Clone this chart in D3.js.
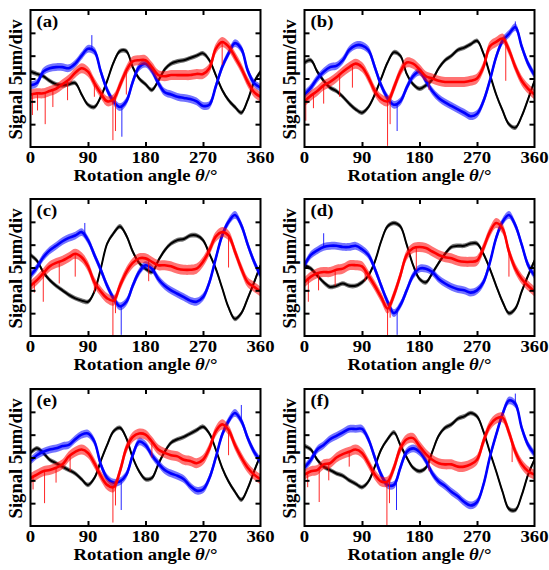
<!DOCTYPE html>
<html>
<head>
<meta charset="utf-8">
<script src="https://cdn.jsdelivr.net/npm/d3@7"></script>
<style>
  html, body { margin: 0; padding: 0; background: #fff; }
  svg { display: block; }
  text { font-family: "Liberation Serif", "Times New Roman", serif; font-weight: bold; fill: #000; }
</style>
</head>
<body>
<svg id="chart" width="549" height="570"></svg>
<script>
// Rotation angles (degrees) at which the traces are sampled
const angleDeg = [0,10,20,30,40,50,60,70,80,90,100,110,120,130,140,150,160,170,180,
                  190,200,210,220,230,240,250,260,270,280,290,300,310,320,330,340,350,360];

// Axis ticks: angle labels and signal divisions (5 µm per division)
const xTickValues = [0, 90, 180, 270, 360];
const yTickValues = [1, 2, 3, 4, 5];
const yDomain = [0, 6];

// Panel letters
const panelLabels = ["(a)", "(b)", "(c)", "(d)", "(e)", "(f)"];

// Signal traces, in divisions, for each panel
const blackA = [3.3,3.2,3.1,2.9,2.75,2.7,2.75,2.8,2.3,1.85,1.75,2.2,2.9,3.7,4.2,4.2,3.5,3.0,2.75,2.5,2.9,3.4,3.65,3.75,3.8,3.9,4.0,4.1,3.8,3.15,2.5,2.05,1.75,1.5,2.05,2.85,3.3];
const blueA  = [2.7,2.8,3.3,3.45,3.5,3.5,3.45,3.65,4.0,4.3,4.2,3.3,2.5,2.0,1.75,2.0,2.85,3.5,3.65,3.35,2.8,2.4,2.3,2.2,2.15,2.1,2.0,1.8,1.85,2.65,3.5,4.1,4.55,4.3,3.35,2.8,2.6];
const redA   = [2.3,2.35,2.35,2.45,2.55,2.75,2.95,3.25,3.45,3.3,2.8,2.35,2.0,2.1,2.7,3.35,3.75,3.8,3.8,3.5,3.15,3.1,3.15,3.15,3.15,3.15,3.2,3.2,3.45,4.3,4.6,4.4,3.95,3.45,2.85,2.4,2.2];

const blackB = [3.7,3.8,3.3,2.9,2.6,2.45,2.2,1.9,1.65,1.5,1.75,2.3,3.0,3.7,4.15,4.0,3.2,2.75,2.55,2.7,2.95,3.45,3.8,4.0,4.25,4.35,4.5,4.65,4.1,3.2,2.3,1.6,1.0,0.85,1.35,2.1,2.9];
const blueB  = [2.3,2.6,3.0,3.3,3.5,3.55,3.8,4.25,4.45,4.45,4.25,3.5,2.7,2.15,1.85,2.0,2.6,3.1,3.3,2.9,2.45,2.15,1.95,1.8,1.65,1.5,1.35,1.45,2.0,2.9,3.95,4.65,4.95,5.25,4.4,3.65,3.15];
const redB   = [2.0,2.25,2.45,2.7,2.85,3.05,3.3,3.5,3.65,3.5,3.05,2.45,2.1,2.0,2.6,3.3,3.7,3.65,3.4,3.1,3.0,2.9,2.85,2.85,2.85,2.85,2.9,3.0,3.5,4.4,4.6,4.75,4.25,3.5,2.9,2.55,2.3];

const blackC = [3.55,3.3,2.8,2.45,2.2,2.0,1.8,1.65,1.55,1.5,1.95,2.95,4.05,4.5,4.8,4.4,3.7,3.2,2.95,2.8,3.3,3.75,4.05,4.2,4.25,4.4,4.4,4.2,3.6,2.95,2.1,1.25,0.75,1.0,1.65,2.35,3.1];
const blueC  = [2.65,3.0,3.45,3.75,3.95,4.15,4.3,4.4,4.55,4.2,3.55,2.9,2.2,1.65,1.3,1.5,2.2,2.8,3.1,2.95,2.5,2.2,2.0,1.85,1.7,1.55,1.5,1.7,2.35,3.4,4.4,5.0,5.3,4.85,4.0,3.25,2.65];
const redC   = [2.2,2.45,2.75,3.05,3.2,3.3,3.45,3.6,3.45,3.05,2.35,1.95,1.65,1.55,2.2,2.8,3.2,3.4,3.4,3.25,3.1,3.1,3.05,2.95,2.9,2.9,2.95,3.25,3.75,4.35,4.55,4.4,3.7,2.95,2.35,2.15,1.95];

const blackD = [3.1,2.95,2.65,2.35,2.15,2.2,2.3,2.2,2.2,2.35,2.65,3.25,4.15,4.8,4.95,4.8,4.0,3.1,2.5,2.35,2.75,3.2,3.6,3.9,3.95,3.95,4.05,4.05,3.6,2.95,2.2,1.5,1.0,1.2,1.95,2.65,3.3];
const blueD  = [3.1,3.55,3.75,3.9,3.95,3.95,3.9,3.9,3.95,3.8,3.55,2.95,2.2,1.5,1.0,1.35,2.0,2.65,2.95,2.95,2.8,2.5,2.3,2.15,2.05,2.0,1.9,2.0,2.35,3.2,4.3,5.0,5.3,4.85,4.0,3.1,2.65];
const redD   = [2.35,2.6,2.75,2.8,2.8,2.9,2.95,3.1,3.1,3.05,2.65,2.2,1.7,1.2,1.8,2.65,3.55,3.85,3.9,3.85,3.7,3.55,3.45,3.4,3.3,3.25,3.25,3.3,3.85,4.55,4.95,4.7,3.7,2.95,2.5,2.2,1.95];

const blackE = [3.2,3.4,3.2,2.9,2.75,2.6,2.45,2.3,2.05,1.8,2.1,2.85,3.55,4.15,4.3,3.85,3.0,2.4,2.05,2.1,2.7,3.25,3.65,3.8,3.9,4.05,4.2,4.35,4.05,3.35,2.55,1.95,1.5,1.15,1.65,2.4,3.1];
const blueE  = [2.85,3.1,3.25,3.35,3.4,3.5,3.55,3.8,4.0,4.05,3.7,2.7,2.1,1.9,1.95,2.25,3.1,3.7,3.55,3.1,2.75,2.45,2.3,2.2,2.05,1.75,1.55,1.6,2.1,3.0,4.0,4.6,4.95,4.6,3.85,3.25,2.85];
const redE   = [2.1,2.25,2.4,2.45,2.55,2.7,3.05,3.25,3.35,3.2,2.75,2.2,1.8,1.7,2.4,3.4,3.9,4.05,4.0,3.7,3.35,3.2,3.1,3.05,2.9,2.85,2.75,2.9,3.4,4.15,4.45,4.2,3.55,3.0,2.55,2.25,2.05];

const blackF = [3.5,3.35,2.9,2.6,2.45,2.3,2.2,2.0,1.85,1.7,1.95,2.6,3.35,3.8,4.1,3.55,3.0,2.55,2.4,2.55,3.25,3.95,4.3,4.45,4.7,4.8,4.95,4.8,4.15,3.25,2.4,1.5,0.75,0.7,1.35,2.25,2.9];
const blueF  = [2.55,2.9,3.35,3.55,3.8,3.95,4.1,4.25,4.25,4.25,3.8,3.0,2.25,1.8,1.8,2.55,3.25,3.4,3.25,2.85,2.3,1.95,1.75,1.5,1.3,1.05,0.9,1.05,1.8,3.0,4.0,4.9,5.5,5.35,4.3,3.55,3.15];
const redF   = [2.25,2.4,2.45,2.7,2.75,3.0,3.15,3.25,3.35,3.2,2.75,2.25,1.95,1.95,2.55,3.4,3.8,3.85,3.5,3.15,2.9,2.75,2.7,2.7,2.6,2.6,2.7,2.9,3.7,4.4,4.7,4.75,4.1,3.25,2.7,2.4,2.25];

// Noise half-width of each trace (divisions): black, blue, red
const noiseHalfWidth = [0.1, 0.17, 0.22];

// Isolated noise spikes [angle, extreme value] for red and blue traces
const redSpikes = [
  [[3,1.4],[11,1.6],[23,1.0],[35,1.75],[58,2.05],[100,2.2],[129,0.3],[133,0.7],[150,2.3],[300,3.6]],
  [[2,1.15],[14,1.7],[30,1.9],[55,2.2],[75,2.6],[130,0.05],[134,1.0],[195,2.5],[315,2.9]],
  [[6,1.9],[20,1.5],[45,2.3],[70,2.6],[100,1.9],[129,0.0],[133,1.0],[185,2.4],[310,3.0]],
  [[6,1.5],[22,2.0],[48,2.2],[95,2.4],[130,0.0],[134,0.8],[175,2.9],[320,2.6]],
  [[4,1.6],[22,1.0],[40,1.9],[62,2.4],[129,0.15],[133,0.9],[190,3.0],[310,3.1]],
  [[5,1.7],[23,1.05],[38,2.0],[70,2.6],[129,0.0],[133,1.0],[195,2.4],[325,2.8]]
];
const blueSpikes = [
  [[143,0.45],[96,4.9]],
  [[145,0.7],[330,5.5]],
  [[142,0.05],[85,4.95]],
  [[145,0.05],[30,4.5]],
  [[142,0.7],[330,5.3]],
  [[144,0.7],[330,5.8]]
];

const traceColors = ["#000000", "#0000ff", "#ff0000"];
const panelTraces = [
  [blackA, blueA, redA],
  [blackB, blueB, redB],
  [blackC, blueC, redC],
  [blackD, blueD, redD],
  [blackE, blueE, redE],
  [blackF, blueF, redF]
];

// Grid layout: 3 rows x 2 columns of identical panels
const colLeft = [30.5, 304.5];
const rowTop = [10, 199, 389];
const W = 230, H = 137;
const textStretch = 1.17;   // labels are set wider than the serif's natural width

const svg = d3.select("#chart");

// Bold serif label with horizontal stretch about its anchor
function label(parent, x, y, anchor, size) {
  return parent.append("text")
    .attr("transform", `translate(${x},${y}) scale(${textStretch},1)`)
    .attr("text-anchor", anchor)
    .attr("font-size", size);
}

panelTraces.forEach((traces, i) => {
  const left = colLeft[i % 2];
  const top = rowTop[Math.floor(i / 2)];
  const g = svg.append("g").attr("transform", `translate(${left},${top})`);

  const x = d3.scaleLinear().domain([0, 360]).range([0, W]);
  const y = d3.scaleLinear().domain(yDomain).range([H, 0]);

  const clipId = "clip" + i;
  g.append("clipPath").attr("id", clipId)
    .append("rect").attr("x", 0).attr("y", 0).attr("width", W).attr("height", H);
  const plot = g.append("g").attr("clip-path", `url(#${clipId})`);

  const valueAt = (series, a) => {
    const k = Math.min(Math.floor(a / 10), series.length - 2);
    const t = (a - angleDeg[k]) / 10;
    return series[k] * (1 - t) + series[k + 1] * t;
  };

  traces.forEach((series, s) => {
    const hw = noiseHalfWidth[s];
    const color = traceColors[s];
    const area = d3.area()
      .curve(d3.curveCatmullRom)
      .x((d, j) => x(angleDeg[j]))
      .y0(d => y(d - hw))
      .y1(d => y(d + hw));
    const line = d3.line()
      .curve(d3.curveCatmullRom)
      .x((d, j) => x(angleDeg[j]))
      .y(d => y(d));

    // noise envelope
    plot.append("path").datum(series)
      .attr("d", area)
      .attr("fill", color)
      .attr("fill-opacity", 0.55);

    const spikes = s === 1 ? blueSpikes[i] : s === 2 ? redSpikes[i] : [];
    spikes.forEach(([a, v]) => {
      plot.append("line")
        .attr("x1", x(a)).attr("x2", x(a))
        .attr("y1", y(valueAt(series, a))).attr("y2", y(v))
        .attr("stroke", color).attr("stroke-width", 1)
        .attr("stroke-opacity", 0.85);
    });

    // trace centre
    plot.append("path").datum(series)
      .attr("d", line)
      .attr("fill", "none")
      .attr("stroke", color)
      .attr("stroke-width", s === 0 ? 2 : 2.6);
  });

  // Inward ticks on all four sides
  const tickLen = 5;
  const axisStyle = sel => {
    sel.select(".domain").remove();
    sel.selectAll(".tick line").attr("stroke", "#000").attr("stroke-width", 2);
  };
  g.append("g").attr("transform", `translate(0,${H})`)
    .call(d3.axisBottom(x).tickValues(xTickValues.slice(1, -1)).tickSize(-tickLen).tickFormat(""))
    .call(axisStyle);
  g.append("g")
    .call(d3.axisTop(x).tickValues(xTickValues.slice(1, -1)).tickSize(-tickLen).tickFormat(""))
    .call(axisStyle);
  g.append("g")
    .call(d3.axisLeft(y).tickValues(yTickValues).tickSize(-tickLen).tickFormat(""))
    .call(axisStyle);
  g.append("g").attr("transform", `translate(${W},0)`)
    .call(d3.axisRight(y).tickValues(yTickValues).tickSize(-tickLen).tickFormat(""))
    .call(axisStyle);

  // Frame
  g.append("rect").attr("x", 0).attr("y", 0).attr("width", W).attr("height", H)
    .attr("fill", "none").attr("stroke", "#000").attr("stroke-width", 2);

  // Angle tick labels
  xTickValues.forEach(v => {
    label(g, x(v), H + 16, "middle", 16).text(v);
  });

  // Axis titles
  const xt = label(g, W / 2, H + 34, "middle", 16);
  xt.append("tspan").text("Rotation angle ");
  xt.append("tspan").attr("font-style", "italic").text("θ");
  xt.append("tspan").text("/°");

  g.append("text")
    .attr("transform", `translate(-9,${H / 2 + 1}) rotate(-90)`)
    .attr("text-anchor", "middle").attr("font-size", 18)
    .attr("textLength", 120).attr("lengthAdjust", "spacingAndGlyphs")
    .text("Signal 5μm/div");

  // Panel letter
  label(g, 6, 17, "start", 16).text(panelLabels[i]);
});
</script>
</body>
</html>
